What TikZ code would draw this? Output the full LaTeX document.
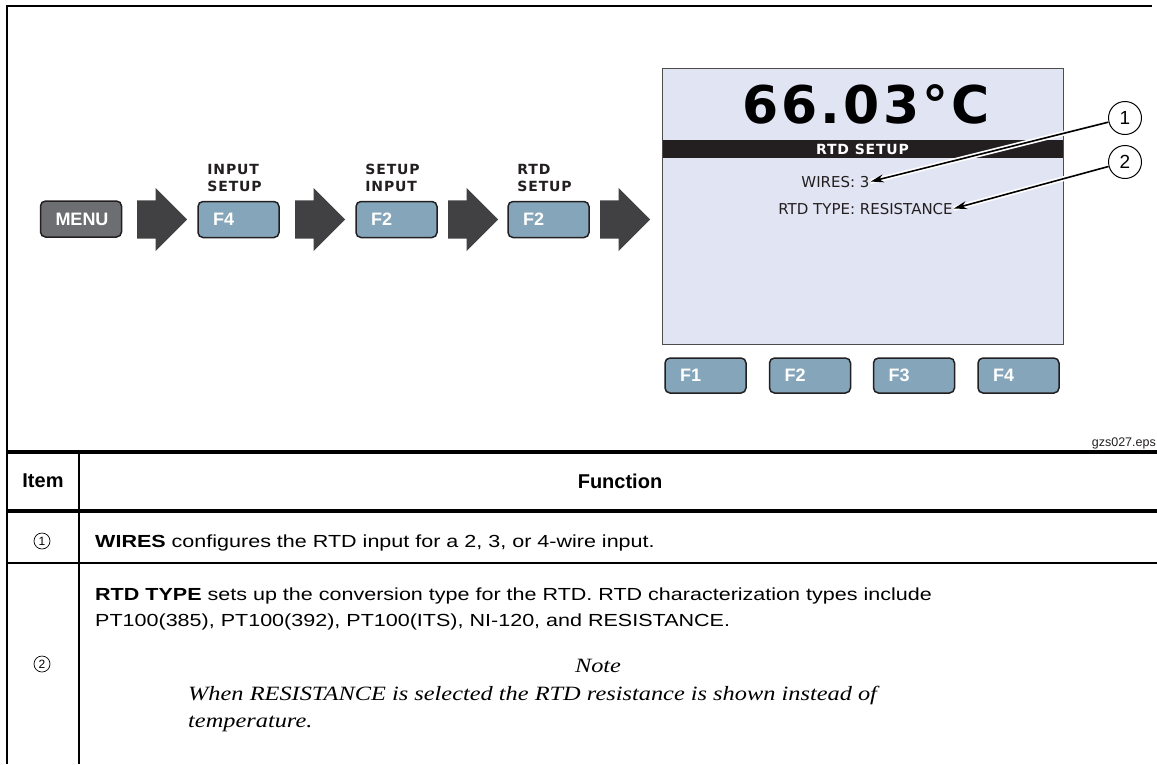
\documentclass[tikz,border=0pt]{standalone}
\usepackage{fontspec}
\setmainfont{Liberation Sans}
\newfontfamily\tablefont{Liberation Sans}[FakeStretch=1.23]
\newfontfamily\lcdfont{DejaVu Sans}
\newfontfamily\lcdwide{DejaVu Sans}[LetterSpace=6]
\newfontfamily\notefont{Liberation Serif}[FakeStretch=1.2]
\usetikzlibrary{arrows.meta,shapes.arrows,positioning}
\definecolor{keyblue}{RGB}{133,166,186}
\definecolor{keygray}{RGB}{109,110,113}
\definecolor{keyedge}{RGB}{35,31,32}
\definecolor{arrowgray}{RGB}{65,64,66}
\definecolor{lcdback}{RGB}{225,228,243}
\tikzstyle{key}=[draw=keyedge,line width=1.5pt,rounded corners=5pt,fill=keyblue,minimum width=81pt,minimum height=36pt,inner xsep=15pt,inner ysep=0pt,text width=51pt,align=left,text=white,font=\fontsize{18}{20}\selectfont\bfseries]
\tikzstyle{menukey}=[key,fill=keygray,align=center]
\tikzstyle{bigarrow}=[single arrow,fill=arrowgray,minimum height=50pt,minimum width=63pt,single arrow head extend=12.5pt,single arrow head indent=0pt,inner xsep=0pt,inner ysep=19pt,anchor=tail]
\tikzstyle{steplabel}=[inner sep=0pt,align=left,text=keyedge,font=\fontsize{14}{17}\selectfont\lcdwide\bfseries]
\tikzstyle{lcdtext}=[inner sep=1pt,text=keyedge,font=\fontsize{15}{18}\selectfont\lcdfont]
\tikzstyle{callout}=[circle,draw,line width=1pt,fill=white,minimum size=33pt,inner sep=0pt,font=\fontsize{19}{19}\selectfont]
\tikzstyle{halo}=[draw=white,line width=5pt]
\tikzstyle{leader}=[draw,line width=1.6pt,-{Stealth[length=13pt,width=8pt]}]
\tikzstyle{itemno}=[circle,draw,line width=0.7pt,minimum size=16pt,inner sep=0pt,font=\fontsize{12}{12}\selectfont]
\tikzstyle{cell}=[anchor=base west,inner sep=0pt,font=\fontsize{17.5}{22}\selectfont\tablefont]
\tikzstyle{head}=[inner sep=0pt,font=\fontsize{20}{24}\selectfont\bfseries]
\tikzstyle{notetext}=[anchor=base west,inner sep=0pt,font=\fontsize{20.3}{24}\selectfont\notefont\itshape]

\begin{document}
\begin{tikzpicture}[x=1pt,y=-1pt]
    \useasboundingbox (0,0) rectangle (1157,764);
    % Frame and table rules
    \draw[line width=2pt] (1152,6) -- (7,6) -- (7,764);
    \draw[line width=3.5pt] (7,452) -- (1157,452);
    \draw[line width=3.5pt] (7,511) -- (1157,511);
    \draw[line width=2pt] (7,563) -- (1157,563);
    \draw[line width=2pt] (79,452) -- (79,764);

    % Key sequence: MENU, then the arrows and function keys
    \node[menukey] (menu) at (81,219) {MENU};
    \foreach \x/\name in {137/a1, 295/a2, 448/a3, 600/a4}
        \node[bigarrow] (\name) at (\x,219.5) {};
    \foreach \x/\name/\txt in {238.5/k1/F4, 396.5/k2/F2, 548.5/k3/F2}
        \node[key] (\name) at (\x,219.5) {\txt};
    \node[steplabel, above right=8.5pt and 10pt of k1.north west] (l1) {INPUT\\SETUP};
    \node[steplabel, above right=8.5pt and 10pt of k2.north west] (l2) {SETUP\\INPUT};
    \node[steplabel, above right=8.5pt and 10pt of k3.north west] (l3) {RTD\\SETUP};

    % The display
    \node[draw=keyedge!80,line width=1pt,fill=lcdback,minimum width=401pt,minimum height=276pt,inner sep=0pt] (screen) at (862.5,206) {};
    \node[fill=keyedge,minimum width=400pt,minimum height=18pt,inner sep=0pt,text=white,font=\fontsize{14}{16}\selectfont\lcdwide\bfseries] (band) at (862.5,149) {RTD SETUP};
    \node[anchor=base,inner sep=0pt,font=\fontsize{52}{60}\selectfont\lcdwide\bfseries] (temp) at (866,123) {66.03°C};
    \node[lcdtext, anchor=base] (wires) at (835.5,187) {WIRES: 3};
    \node[lcdtext, anchor=base] (rtdtype) at (865.5,214) {RTD TYPE: RESISTANCE};
    \foreach \x/\name/\txt in {705.5/s1/F1, 810/s2/F2, 914/s3/F3, 1018.5/s4/F4}
        \node[key, minimum height=35pt] (\name) at (\x,375.5) {\txt};

    % Callouts
    \node[callout] (c1) at (1125,118) {1};
    \node[callout] (c2) at (1125,162) {2};
    \foreach \source/\dest in {c1/wires, c2/rtdtype} {
        \path[halo] (\source) -- (\dest.east);
        \path[leader] (\source) -- (\dest.east);
    }
    \node[anchor=base east,inner sep=0pt,text=keyedge,font=\fontsize{12.5}{14}\selectfont] (fig) at (1156,446) {gzs027.eps};

    % Table
    \node[head] (item) at (43,481) {Item};
    \node[head] (func) at (620,481) {Function};
    \node[itemno] (i1) at (42,541) {1};
    \node[itemno] (i2) at (42,664) {2};
    \node[cell] (w1) at (95,547) {\textbf{WIRES} configures the RTD input for a 2, 3, or 4-wire input.};
    \node[cell] (t1) at (95,600) {\textbf{RTD TYPE} sets up the conversion type for the RTD. RTD characterization types include};
    \node[cell] (t2) at (95,626) {PT100(385), PT100(392), PT100(ITS), NI-120, and RESISTANCE.};
    \node[notetext, anchor=base] (note) at (598,672) {Note};
    \node[notetext] (n1) at (188,700) {When RESISTANCE is selected the RTD resistance is shown instead of};
    \node[notetext] (n2) at (188,727) {temperature.};
\end{tikzpicture}
\end{document}
